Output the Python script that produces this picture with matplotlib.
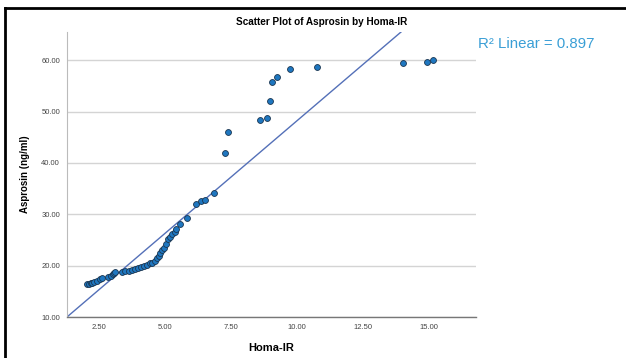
import matplotlib
matplotlib.use("Agg")
import matplotlib.pyplot as plt
from matplotlib.lines import Line2D

plt.rcParams['font.family'] = ['Liberation Sans', 'DejaVu Sans']

homa_ir = [2.05, 2.12, 2.18, 2.25, 2.32, 2.42, 2.55, 2.62, 2.85, 2.95, 3.02, 3.08, 3.12,
           3.38, 3.50, 3.62, 3.75, 3.85, 3.98, 4.08, 4.20, 4.32, 4.42, 4.52, 4.62, 4.70,
           4.76, 4.82, 4.90, 4.98, 5.05, 5.12, 5.20, 5.28, 5.36, 5.43, 5.58, 5.85, 6.18,
           6.38, 6.50, 6.85, 7.27, 7.39, 8.58, 8.87, 8.99, 9.05, 9.24, 9.73, 10.75,
           14.01, 14.93, 15.15]
asprosin = [16.4, 16.5, 16.6, 16.7, 16.8, 17.0, 17.4, 17.6, 17.8, 18.0, 18.3, 18.6, 18.8,
            18.8, 18.9, 19.0, 19.1, 19.3, 19.5, 19.7, 19.9, 20.2, 20.5, 20.6, 20.9, 21.4,
            21.9, 22.5, 23.0, 23.4, 24.2, 25.2, 25.6, 26.1, 26.6, 27.2, 28.1, 29.3, 32.1,
            32.5, 32.7, 34.2, 42.0, 46.0, 48.4, 48.7, 52.1, 55.8, 56.7, 58.3, 58.6,
            59.4, 59.6, 60.0]

fit_intercept = 4.34
fit_slope = 4.39
r2_linear = 0.897

x_ticks = [2.5, 5.0, 7.5, 10.0, 12.5, 15.0]
y_ticks = [10, 20, 30, 40, 50, 60]

fig = plt.figure(figsize=(6.26, 3.58), dpi=100)
ax = fig.add_axes([67/626, 1-317/358, (476-67)/626, (317-32)/358])

ax.set_xlim(1.29, 16.77)
ax.set_ylim(10, 65.5)
ax.set_xticks(x_ticks)
ax.set_yticks(y_ticks)
ax.set_xticklabels([f"{v:.2f}" for v in x_ticks])
ax.set_yticklabels([f"{v:.2f}" for v in y_ticks])
ax.tick_params(length=0, labelsize=5.5, colors='#444444', pad=5)

ax.grid(axis='y', color='#d4d4d4', linewidth=1.0)
ax.set_axisbelow(True)
for s in ['top', 'right']:
    ax.spines[s].set_visible(False)
ax.spines['left'].set_color('#bbbbbb')
ax.spines['bottom'].set_color('#777777')
ax.spines['bottom'].set_linewidth(1.0)

ax.axline((0, fit_intercept), slope=fit_slope, color='#5470b8', linewidth=1.0, zorder=2)
ax.scatter(homa_ir, asprosin, s=18, color='#1f77c0', edgecolors='#1a3550',
           linewidths=0.6, zorder=3)

ax.set_xlabel("Homa-IR", fontsize=8, fontweight='bold', labelpad=9)
ax.set_ylabel("Asprosin (ng/ml)", fontsize=7, fontweight='bold', labelpad=8)
fig.text(322/626, 1-22/358, "Scatter Plot of Asprosin by Homa-IR", fontsize=7.2,
         fontweight='bold', ha='center', va='center')
fig.text(478/626, 1-44/358, f"R² Linear = {r2_linear:.3f}",
         fontsize=10.8, color='#3a9fd6', ha='left', va='center')

fig.add_artist(Line2D([5/626, 5/626], [0, 1-8/358], transform=fig.transFigure,
                      color='black', linewidth=2))
fig.add_artist(Line2D([5/626, 1], [1-8/358, 1-8/358], transform=fig.transFigure,
                      color='black', linewidth=2))

fig.savefig("out.png", dpi=100)
